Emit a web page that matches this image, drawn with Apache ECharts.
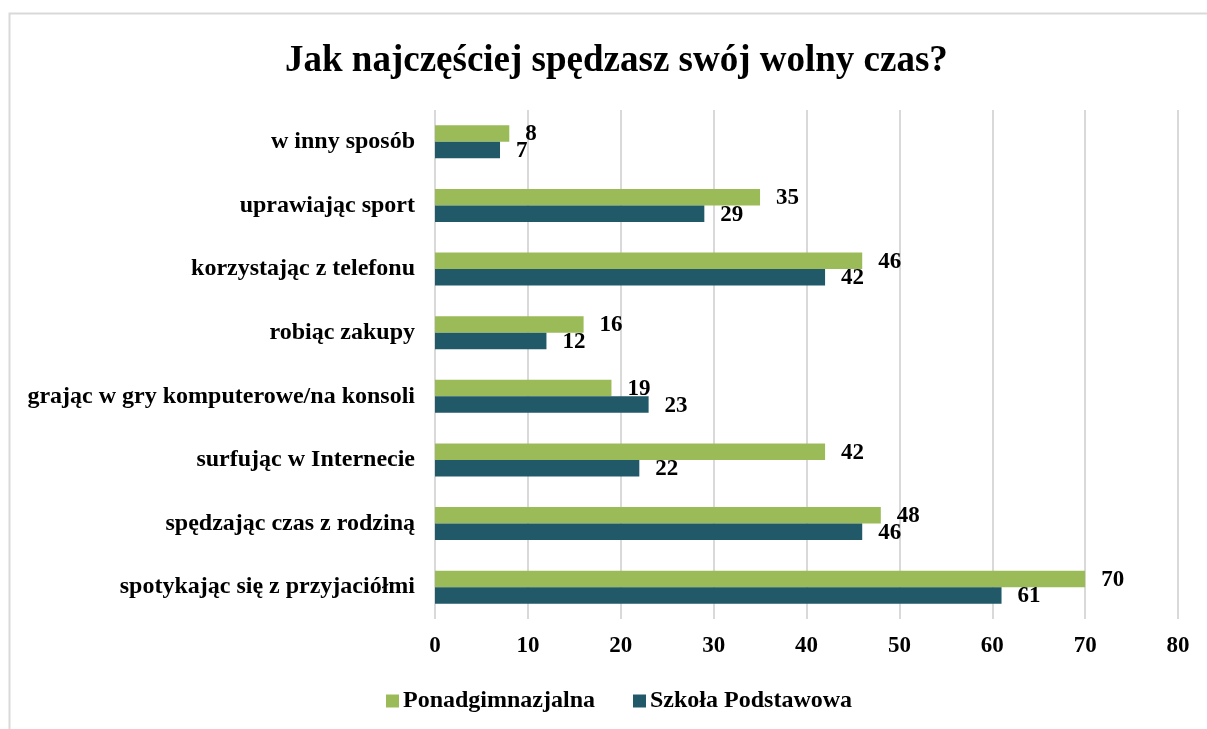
<!DOCTYPE html>
<html>
<head>
<meta charset="utf-8">
<script src="https://cdn.jsdelivr.net/npm/echarts@6/dist/echarts.min.js"></script>
<style>
  html, body { margin: 0; padding: 0; background: #fff; }
  #chart { width: 1207px; height: 729px; }
</style>
</head>
<body>
<div id="chart"></div>
<script>
  // categories, bottom to top as drawn
  const categories = [
    'spotykając się z przyjaciółmi',
    'spędzając czas z rodziną',
    'surfując w Internecie',
    'grając w gry komputerowe/na konsoli',
    'robiąc zakupy',
    'korzystając z telefonu',
    'uprawiając sport',
    'w inny sposób'
  ]
  const ponadgimnazjalna = [70, 48, 42, 19, 16, 46, 35, 8]
  const szkolaPodstawowa = [61, 46, 22, 23, 12, 42, 29, 7]

  const font = '"Liberation Serif", "Times New Roman", serif'
  const chart = echarts.init(document.getElementById('chart'))

  chart.setOption({
    animation: false,
    title: {
      text: 'Jak najczęściej spędzasz swój wolny czas?',
      left: 280,
      top: 38,
      textStyle: { fontFamily: font, fontSize: 37, fontWeight: 'bold', color: '#000' }
    },
    graphic: [{
      type: 'rect',
      shape: { x: 9.5, y: 13.5, width: 1300, height: 800 },
      style: { fill: 'none', stroke: '#d9d9d9', lineWidth: 2 },
      silent: true
    }],
    legend: {
      top: 684,
      left: 381,
      itemWidth: 13,
      itemHeight: 13,
      itemGap: 38,
      icon: 'rect',
      textStyle: { fontFamily: font, fontSize: 24, fontWeight: 'bold', color: '#000', padding: [0, 0, 0, -1] },
      data: ['Ponadgimnazjalna', 'Szkoła Podstawowa']
    },
    grid: { left: 435, right: 29, top: 110, bottom: 110 },
    xAxis: {
      type: 'value',
      min: 0,
      max: 80,
      interval: 10,
      axisLine: { show: false },
      axisTick: { show: false },
      splitLine: { lineStyle: { color: '#d9d9d9', width: 2 } },
      axisLabel: { margin: 16, fontFamily: font, fontSize: 23, fontWeight: 'bold', color: '#000' }
    },
    yAxis: {
      type: 'category',
      data: categories,
      axisLine: { show: false },
      axisTick: { show: false },
      axisLabel: { margin: 20, fontFamily: font, fontSize: 24, fontWeight: 'bold', color: '#000' }
    },
    series: [
      {
        name: 'Ponadgimnazjalna',
        type: 'bar',
        data: ponadgimnazjalna,
        barGap: '0%',
        barCategoryGap: '48%',
        itemStyle: { color: '#9bbb59' },
        label: {
          show: true, position: 'right', distance: 16, offset: [0, 1],
          fontFamily: font, fontSize: 23, fontWeight: 'bold', color: '#000'
        }
      },
      {
        name: 'Szkoła Podstawowa',
        type: 'bar',
        data: szkolaPodstawowa,
        itemStyle: { color: '#215968' },
        label: {
          show: true, position: 'right', distance: 16, offset: [0, 1],
          fontFamily: font, fontSize: 23, fontWeight: 'bold', color: '#000'
        }
      }
    ]
  })
</script>
</body>
</html>
